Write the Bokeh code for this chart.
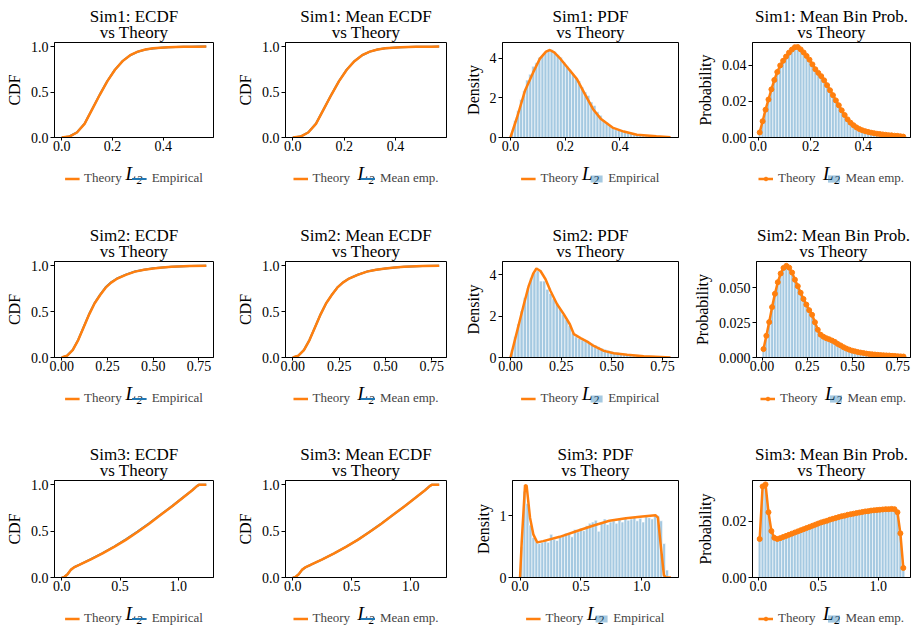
import numpy as np
from bokeh.plotting import figure
from bokeh.layouts import row, column
from bokeh.models import Range1d, FixedTicker, PrintfTickFormatter, Legend, LegendItem, Title, Label
from bokeh.embed import file_html
from bokeh.resources import INLINE

ORANGE = "#ff7f0e"
BLUE = "#1f77b4"
FONT = "'Liberation Serif', 'Times New Roman', Times, serif"

# ---------------- data ----------------
sims = ["Sim1", "Sim2", "Sim3"]

# ECDF curves (x, theory CDF, empirical CDF, mean empirical CDF)
sim1_cdf_x = [0, 0.03, 0.06, 0.09, 0.12, 0.15, 0.18, 0.21, 0.24, 0.27, 0.30, 0.33, 0.36, 0.39, 0.42, 0.45, 0.48, 0.51, 0.54, 0.57]
sim1_cdf_theory = [0, 0.01, 0.055, 0.15, 0.31, 0.47, 0.62, 0.745, 0.84, 0.905, 0.945, 0.968, 0.981, 0.988, 0.993, 0.996, 0.998, 0.999, 0.9995, 1.0]
sim1_cdf_emp = [0, 0.011, 0.057, 0.152, 0.312, 0.472, 0.622, 0.746, 0.841, 0.904, 0.944, 0.967, 0.980, 0.988, 0.993, 0.996, 0.998, 0.999, 1.0, 1.0]
sim1_cdf_mean = [0, 0.010, 0.056, 0.151, 0.311, 0.471, 0.621, 0.746, 0.840, 0.905, 0.945, 0.968, 0.981, 0.988, 0.993, 0.996, 0.998, 0.999, 0.9996, 1.0]

sim2_cdf_x = [0, 0.03, 0.06, 0.09, 0.12, 0.15, 0.18, 0.21, 0.24, 0.27, 0.30, 0.35, 0.40, 0.45, 0.50, 0.55, 0.60, 0.70, 0.79]
sim2_cdf_theory = [0, 0.02, 0.08, 0.19, 0.33, 0.47, 0.59, 0.68, 0.76, 0.815, 0.855, 0.90, 0.935, 0.955, 0.97, 0.98, 0.987, 0.996, 1.0]
sim2_cdf_emp = [0, 0.021, 0.082, 0.192, 0.333, 0.473, 0.594, 0.684, 0.764, 0.818, 0.857, 0.902, 0.936, 0.956, 0.971, 0.981, 0.988, 0.996, 1.0]
sim2_cdf_mean = [0, 0.020, 0.081, 0.191, 0.331, 0.471, 0.591, 0.681, 0.761, 0.816, 0.856, 0.901, 0.935, 0.955, 0.970, 0.980, 0.987, 0.996, 1.0]

sim3_cdf_x = [0, 0.02, 0.05, 0.08, 0.11, 0.15, 0.25, 0.35, 0.45, 0.55, 0.65, 0.75, 0.85, 0.95, 1.05, 1.12, 1.16, 1.18, 1.24]
sim3_cdf_theory = [0, 0.003, 0.035, 0.085, 0.112, 0.135, 0.195, 0.26, 0.33, 0.405, 0.49, 0.58, 0.675, 0.77, 0.87, 0.94, 0.985, 1.0, 1.0]
sim3_cdf_emp = [0, 0.004, 0.036, 0.086, 0.113, 0.136, 0.197, 0.263, 0.334, 0.41, 0.494, 0.584, 0.678, 0.772, 0.871, 0.94, 0.985, 1.0, 1.0]
sim3_cdf_mean = [0, 0.003, 0.035, 0.085, 0.112, 0.135, 0.196, 0.261, 0.331, 0.406, 0.491, 0.581, 0.676, 0.771, 0.87, 0.94, 0.985, 1.0, 1.0]

# Theoretical PDF curves
sim1_pdf_x = [0.0, 0.024, 0.053, 0.083, 0.107, 0.130, 0.144, 0.160, 0.183, 0.213, 0.243, 0.272, 0.302, 0.331, 0.373, 0.414, 0.462, 0.533, 0.585]
sim1_pdf_y = [0.0, 1.01, 2.36, 3.29, 3.97, 4.34, 4.42, 4.30, 3.97, 3.46, 2.95, 2.19, 1.43, 0.93, 0.50, 0.30, 0.14, 0.06, 0.01]
sim2_pdf_x = [0.0, 0.033, 0.066, 0.090, 0.112, 0.128, 0.148, 0.173, 0.197, 0.230, 0.263, 0.293, 0.313, 0.346, 0.379, 0.411, 0.461, 0.510, 0.576, 0.658, 0.740, 0.790]
sim2_pdf_y = [0.0, 1.29, 2.58, 3.47, 4.06, 4.31, 4.19, 3.79, 3.23, 2.58, 2.10, 1.61, 1.13, 0.94, 0.77, 0.56, 0.32, 0.21, 0.13, 0.065, 0.03, 0.0]
sim3_pdf_x = [0.0, 0.014, 0.041, 0.054, 0.082, 0.109, 0.141, 0.19, 0.326, 0.462, 0.598, 0.734, 0.87, 1.005, 1.114, 1.133, 1.155, 1.182, 1.196, 1.24]
sim3_pdf_y = [0.0, 0.59, 1.50, 1.49, 0.97, 0.70, 0.57, 0.59, 0.66, 0.75, 0.84, 0.92, 0.96, 0.99, 1.01, 0.97, 0.54, 0.04, 0.0, 0.0]

# Histogram bin ranges (50 bins each)
sim_bin_range = [(0.0, 0.558), (0.0, 0.79), (0.0, 1.22)]
n_bins = 50

# Empirical histogram densities (single run)
sim1_hist_density = [0.22, 0.85, 1.35, 1.92, 2.35, 2.9, 3.2, 3.6, 3.78, 4.05, 4.15, 4.3, 4.42, 4.45, 4.33, 4.18, 4.05, 3.82, 3.6, 3.42,
                     3.18, 3.0, 2.86, 2.55, 2.3, 2.12, 1.8, 1.62, 1.3, 1.12, 0.88, 0.74, 0.6, 0.52, 0.4, 0.37, 0.3, 0.27, 0.25, 0.2,
                     0.19, 0.17, 0.14, 0.13, 0.12, 0.1, 0.08, 0.08, 0.06, 0.05]
sim2_hist_density = [0.35, 1.0, 1.62, 2.25, 2.9, 3.35, 3.85, 4.1, 4.2, 3.7, 3.7, 3.3, 3.1, 2.85, 2.6, 2.35, 2.1, 1.85, 1.55, 1.2,
                     1.0, 0.92, 0.85, 0.8, 0.72, 0.68, 0.6, 0.52, 0.45, 0.4, 0.35, 0.3, 0.27, 0.25, 0.22, 0.19, 0.17, 0.16, 0.14, 0.13,
                     0.12, 0.1, 0.1, 0.09, 0.08, 0.07, 0.06, 0.06, 0.05, 0.04]
sim3_hist_density = [0.5, 1.4, 1.2, 0.85, 0.65, 0.58, 0.55, 0.57, 0.6, 0.57, 0.7, 0.62, 0.6, 0.65, 0.68, 0.72, 0.7, 0.66, 0.78, 0.74,
                     0.8, 0.76, 0.84, 0.88, 0.9, 0.93, 0.75, 0.88, 0.95, 0.86, 0.9, 0.92, 0.88, 0.95, 0.9, 0.97, 0.93, 0.95, 0.98, 0.92,
                     0.96, 0.9, 1.0, 0.97, 0.95, 1.02, 1.0, 0.92, 0.55, 0.12]

# Bin probabilities: theory and mean empirical
sim1_prob_theory = [0.0028, 0.0090, 0.0154, 0.0210, 0.0266, 0.0318, 0.0362, 0.0398, 0.0424, 0.0447, 0.0469, 0.0486, 0.0499, 0.0500, 0.0487,
                    0.0470, 0.0451, 0.0430, 0.0404, 0.0377, 0.0357, 0.0339, 0.0316, 0.0289, 0.0261, 0.0234, 0.0205, 0.0178, 0.0150, 0.0124,
                    0.0100, 0.0082, 0.0068, 0.0056, 0.0047, 0.0040, 0.0035, 0.0031, 0.0027, 0.0024, 0.0021, 0.0019, 0.0017, 0.0015, 0.0013,
                    0.0012, 0.0010, 0.0009, 0.0007, 0.0005]
sim1_prob_mean = [0.0027, 0.0089, 0.0152, 0.0209, 0.0264, 0.0316, 0.0360, 0.0396, 0.0423, 0.0446, 0.0467, 0.0485, 0.0497, 0.0498, 0.0486,
                  0.0469, 0.0450, 0.0428, 0.0403, 0.0376, 0.0356, 0.0337, 0.0315, 0.0288, 0.0260, 0.0233, 0.0204, 0.0177, 0.0149, 0.0123,
                  0.0099, 0.0081, 0.0067, 0.0055, 0.0046, 0.0039, 0.0034, 0.0030, 0.0026, 0.0023, 0.0020, 0.0018, 0.0016, 0.0014, 0.0012,
                  0.0011, 0.0009, 0.0008, 0.0006, 0.0004]
sim2_prob_theory = [0.0060, 0.0155, 0.0253, 0.0360, 0.0455, 0.0538, 0.0600, 0.0640, 0.0655, 0.0642, 0.0607, 0.0556, 0.0510, 0.0463, 0.0418,
                    0.0378, 0.0338, 0.0305, 0.0252, 0.0198, 0.0163, 0.0148, 0.0138, 0.0130, 0.0121, 0.0111, 0.0097, 0.0086, 0.0074, 0.0064,
                    0.0056, 0.0049, 0.0044, 0.0039, 0.0035, 0.0032, 0.0028, 0.0025, 0.0023, 0.0021, 0.0019, 0.0017, 0.0016, 0.0015, 0.0014,
                    0.0012, 0.0011, 0.0009, 0.0008, 0.0007]
sim2_prob_mean = [0.0058, 0.0153, 0.0251, 0.0357, 0.0452, 0.0534, 0.0596, 0.0636, 0.0650, 0.0638, 0.0603, 0.0553, 0.0507, 0.0460, 0.0416,
                  0.0376, 0.0336, 0.0303, 0.0250, 0.0197, 0.0162, 0.0147, 0.0137, 0.0129, 0.0120, 0.0110, 0.0096, 0.0085, 0.0073, 0.0063,
                  0.0055, 0.0048, 0.0043, 0.0038, 0.0034, 0.0031, 0.0027, 0.0024, 0.0022, 0.0020, 0.0018, 0.0016, 0.0015, 0.0014, 0.0013,
                  0.0011, 0.0010, 0.0008, 0.0007, 0.0006]
sim3_prob_theory = [0.0137, 0.0324, 0.0331, 0.0232, 0.0165, 0.0141, 0.0137, 0.0140, 0.0144, 0.0148, 0.0152, 0.0156, 0.0160, 0.0164, 0.0168,
                    0.0172, 0.0176, 0.0180, 0.0184, 0.0188, 0.0192, 0.0196, 0.0199, 0.0202, 0.0206, 0.0209, 0.0212, 0.0215, 0.0218, 0.0220,
                    0.0223, 0.0225, 0.0227, 0.0229, 0.0231, 0.0233, 0.0235, 0.0236, 0.0238, 0.0239, 0.0240, 0.0241, 0.0242, 0.0243, 0.0243,
                    0.0244, 0.0243, 0.0232, 0.0157, 0.0034]
sim3_prob_mean = [0.0134, 0.0320, 0.0328, 0.0230, 0.0163, 0.0139, 0.0135, 0.0138, 0.0142, 0.0146, 0.0150, 0.0154, 0.0158, 0.0162, 0.0166,
                  0.0170, 0.0174, 0.0178, 0.0182, 0.0186, 0.0190, 0.0194, 0.0197, 0.0200, 0.0204, 0.0207, 0.0210, 0.0213, 0.0216, 0.0218,
                  0.0221, 0.0223, 0.0225, 0.0227, 0.0229, 0.0231, 0.0233, 0.0234, 0.0236, 0.0237, 0.0238, 0.0239, 0.0240, 0.0241, 0.0241,
                  0.0242, 0.0241, 0.0230, 0.0155, 0.0033]

cdf_data = [(sim1_cdf_x, sim1_cdf_theory, sim1_cdf_emp, sim1_cdf_mean),
            (sim2_cdf_x, sim2_cdf_theory, sim2_cdf_emp, sim2_cdf_mean),
            (sim3_cdf_x, sim3_cdf_theory, sim3_cdf_emp, sim3_cdf_mean)]
pdf_data = [(sim1_pdf_x, sim1_pdf_y, sim1_hist_density),
            (sim2_pdf_x, sim2_pdf_y, sim2_hist_density),
            (sim3_pdf_x, sim3_pdf_y, sim3_hist_density)]
prob_data = [(sim1_prob_theory, sim1_prob_mean), (sim2_prob_theory, sim2_prob_mean), (sim3_prob_theory, sim3_prob_mean)]

# axes settings per simulation
x_ticks = [[0, 0.2, 0.4], [0, 0.25, 0.5, 0.75], [0, 0.5, 1.0]]
x_fmt = ["%.1f", "%.2f", "%.1f"]
cdf_xr = [(-0.0285, 0.5985), (-0.0395, 0.8295), (-0.062, 1.302)]
pdf_xr = [(-0.029, 0.614), (-0.0395, 0.8295), (-0.062, 1.302)]
prob_xr = [(-0.0218, 0.580), (-0.0308, 0.8208), (-0.0476, 1.2676)]
pdf_yr = [(0, 4.8), (0, 4.65), (0, 1.574)]
pdf_yticks = [[0, 2, 4], [0, 2, 4], [0, 1]]
prob_yr = [(0, 0.0525), (0, 0.0686), (0, 0.0345)]
prob_yticks = [[0, 0.02, 0.04], [0, 0.025, 0.05], [0, 0.02]]
prob_yfmt = ["%.2f", "%.3f", "%.2f"]

# ---------------- layout geometry ----------------
col_geo = [(232, 54, 19), (228, 53, 14), (230, 42, 12), (224, 62, 4)]   # width, left, right
row_geo = [(42, 95, 22, 60), (42, 96, 22, 59), (42, 97, 22, 32)]        # top, frame, bottom, strip
NAN = [float("nan")]


def borders(r, c):
    W, L, R = col_geo[c]
    if (r, c) == (2, 2):
        L = 52
    return W, L, R


def make_fig(r, c, line1, ylabel, xr, yr, xt, xf, yt, yf):
    W, L, R = borders(r, c)
    T, F, B, _ = row_geo[r]
    p = figure(width=W, height=T + F + B, min_border_left=L, min_border_right=R,
               min_border_top=T, min_border_bottom=B,
               x_range=Range1d(*xr), y_range=Range1d(*yr),
               output_backend="svg", toolbar_location=None)
    # two-line title, each line centred (first added sits nearest the frame)
    p.add_layout(Title(text="vs Theory", align="center", text_font=FONT, text_font_size="17px",
                       text_font_style="normal", text_color="black", standoff=2), "above")
    p.add_layout(Title(text=line1, align="center", text_font=FONT, text_font_size="17px",
                       text_font_style="normal", text_color="black", standoff=-13), "above")
    p.outline_line_color = "black"
    p.outline_line_width = 1
    p.outline_line_alpha = 1
    p.xgrid.visible = False
    p.ygrid.visible = False
    p.background_fill_color = "white"
    p.border_fill_color = "white"
    for ax in (p.xaxis[0], p.yaxis[0]):
        ax.axis_line_color = "black"
        ax.major_tick_line_color = "black"
        ax.minor_tick_line_color = None
        ax.major_tick_in = 0
        ax.major_tick_out = 4
        ax.major_label_text_font = FONT
        ax.major_label_text_font_size = "14px"
        ax.major_label_text_color = "black"
        ax.axis_label_text_font = FONT
        ax.axis_label_text_color = "black"
    p.xaxis.ticker = FixedTicker(ticks=xt)
    p.xaxis.formatter = PrintfTickFormatter(format=xf)
    p.xaxis.major_tick_out = 3
    p.xaxis.major_label_standoff = 0
    p.yaxis.ticker = FixedTicker(ticks=yt)
    p.yaxis.formatter = PrintfTickFormatter(format=yf)
    p.yaxis.axis_label = ylabel
    p.yaxis.axis_label_text_font_size = "16px"
    p.yaxis.axis_label_text_font_style = "normal"
    p.yaxis.axis_label_standoff = 5
    p.yaxis.major_label_standoff = 2
    return p


def legend_strip(r, c, kind, second_label):
    """Strip under a panel holding the x-axis label L2 and the legend."""
    W, L, R = borders(r, c)
    S = row_geo[r][3]
    lf = figure(width=W, height=S, min_border_left=L, min_border_right=R,
                min_border_top=0, min_border_bottom=0,
                x_range=Range1d(0, 1), y_range=Range1d(S, 0),
                x_axis_location=None, y_axis_location=None,
                output_backend="svg", toolbar_location=None)
    lf.grid.visible = False
    lf.outline_line_color = None
    lf.background_fill_color = "white"
    lf.border_fill_color = "white"
    lf.add_layout(Label(x=0.5, y=14, text="L\u2082", text_align="center", text_baseline="alphabetic",
                        text_font=FONT, text_font_size="19px", text_font_style="italic", text_color="black"))
    if kind == "line":
        t = [lf.line(NAN, NAN, line_color=ORANGE, line_width=2.5)]
        e = [lf.line(NAN, NAN, line_color=BLUE, line_width=2)]
    elif kind == "bar":
        t = [lf.line(NAN, NAN, line_color=ORANGE, line_width=2.5)]
        e = [lf.quad(left=NAN, right=NAN, top=NAN, bottom=NAN, fill_color=BLUE, fill_alpha=0.4, line_color=None)]
    else:
        t = [lf.line(NAN, NAN, line_color=ORANGE, line_width=2.5), lf.scatter(NAN, NAN, size=5, color=ORANGE)]
        e = [lf.quad(left=NAN, right=NAN, top=NAN, bottom=NAN, fill_color=BLUE, fill_alpha=0.4, line_color=None)]
    leg = Legend(items=[LegendItem(label="Theory", renderers=t), LegendItem(label=second_label, renderers=e)],
                 location="top_center", orientation="horizontal",
                 glyph_width=15, glyph_height=9, label_standoff=5, spacing=10,
                 padding=0, margin=11, label_text_font=FONT, label_text_font_size="13px",
                 label_height=15, background_fill_alpha=0, border_line_alpha=0)
    lf.add_layout(leg)
    return lf


rows = []
for r, sim in enumerate(sims):
    cells = []
    lo, hi = sim_bin_range[r]
    edges = np.linspace(lo, hi, n_bins + 1)
    centers = (edges[:-1] + edges[1:]) / 2

    # ECDF panels
    cx, ct, ce, cm = cdf_data[r]
    for c, (ttl, emp, lab) in enumerate([("ECDF", ce, "Empirical"), ("Mean ECDF", cm, "Mean emp.")]):
        p = make_fig(r, c, f"{sim}: {ttl}", "CDF", cdf_xr[r], (0, 1.045),
                     x_ticks[r], x_fmt[r], [0, 0.5, 1.0], "%.1f")
        p.line(cx, emp, line_color=BLUE, line_width=2)
        p.line(cx, ct, line_color=ORANGE, line_width=2.5)
        cells.append(column(p, legend_strip(r, c, "line", lab)))

    # PDF panel
    px, py, hd = pdf_data[r]
    p = make_fig(r, 2, f"{sim}: PDF", "Density", pdf_xr[r], pdf_yr[r],
                 x_ticks[r], x_fmt[r], pdf_yticks[r], "%d")
    p.quad(left=edges[:-1], right=edges[1:], bottom=0, top=hd,
           fill_color=BLUE, fill_alpha=0.4, line_color="white", line_width=0.6)
    p.line(px, py, line_color=ORANGE, line_width=2.5)
    cells.append(column(p, legend_strip(r, 2, "bar", "Empirical")))

    # Mean bin probability panel
    pt, pm = prob_data[r]
    p = make_fig(r, 3, f"{sim}: Mean Bin Prob.", "Probability", prob_xr[r], prob_yr[r],
                 x_ticks[r], x_fmt[r], prob_yticks[r], prob_yfmt[r])
    p.quad(left=edges[:-1], right=edges[1:], bottom=0, top=pm,
           fill_color=BLUE, fill_alpha=0.4, line_color="white", line_width=0.6)
    p.line(centers, pt, line_color=ORANGE, line_width=2.5)
    p.scatter(centers, pt, size=5, color=ORANGE)
    cells.append(column(p, legend_strip(r, 3, "marker", "Mean emp.")))

    rows.append(row(*cells))

layout = column(*rows)
open("out.html", "w").write(file_html(layout, INLINE))
